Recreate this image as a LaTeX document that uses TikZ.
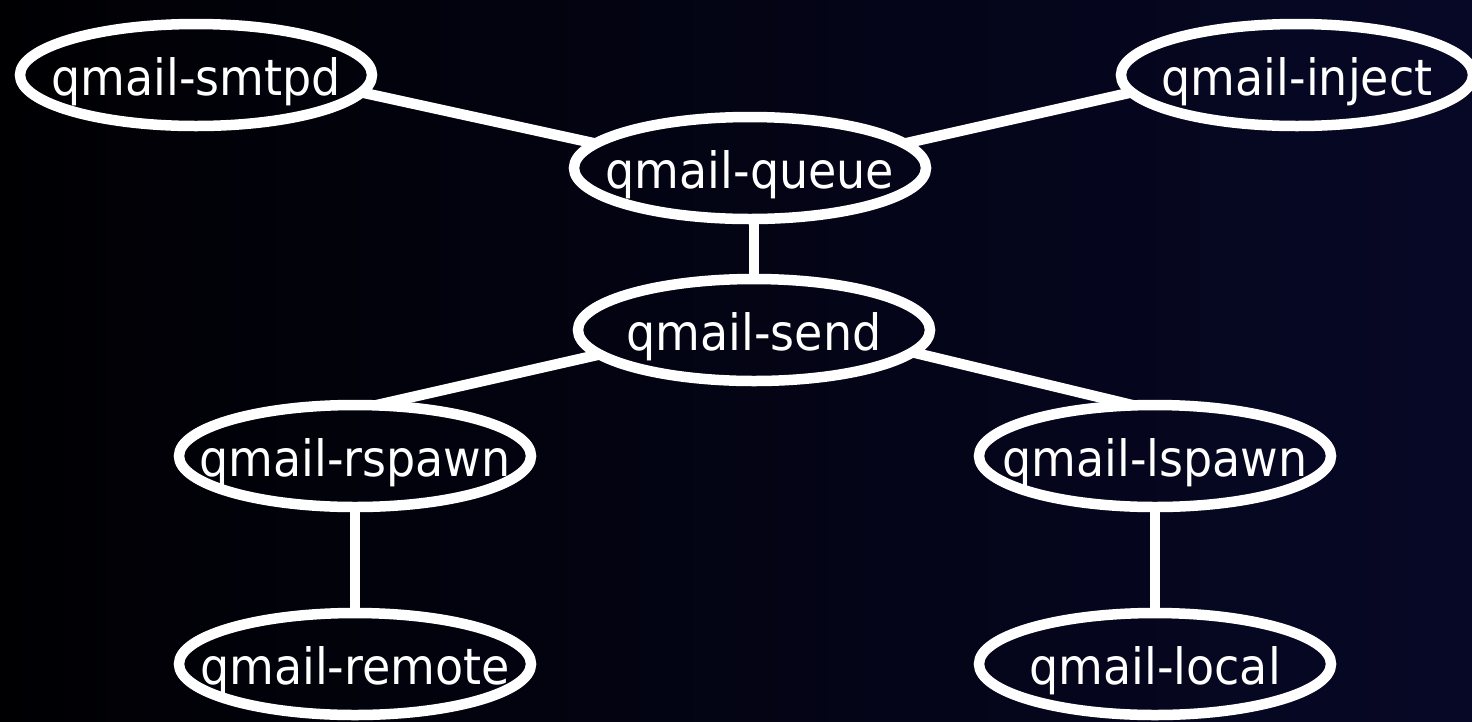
\documentclass[tikz,border=0pt]{standalone}
\usepackage{fontspec}
\setmainfont{DejaVu Sans}[FakeStretch=0.92]
\usetikzlibrary{shapes.geometric}
\definecolor{bgL}{RGB}{0,0,3}
\definecolor{bgR}{RGB}{7,8,38}
\begin{document}
\begin{tikzpicture}[x=1pt,y=-1pt,
  proc/.style={ellipse, draw=white, line width=10.5pt, outer sep=0pt,
    minimum width=352pt, minimum height=102pt, inner sep=0pt,
    text=white, font=\fontsize{50}{54}\selectfont,
    text height=53pt, text depth=12pt},
  link/.style={draw=white, line width=10.5pt}]
\shade[left color=bgL, right color=bgR] (0,0) rectangle (1472,721);
\useasboundingbox (0,0) rectangle (1472,721);
\node[proc] (smtpd)  at (196,75)   {\makebox[0pt]{qmail-smtpd}};
\node[proc] (inject) at (1297,75)  {\makebox[0pt]{qmail-inject}};
\node[proc] (queue)  at (750,168)  {\makebox[0pt]{qmail-queue}};
\node[proc] (send)   at (754,330)  {\makebox[0pt]{qmail-send}};
\node[proc] (rspawn) at (355,456)  {\makebox[0pt]{qmail-rspawn}};
\node[proc] (lspawn) at (1155,456) {\makebox[0pt]{qmail-lspawn}};
\node[proc] (remote) at (355,664)  {\makebox[0pt]{qmail-remote}};
\node[proc] (local)  at (1155,664) {\makebox[0pt]{qmail-local}};
\draw[link] (smtpd.-6) -- (queue.171);
\draw[link] (inject.186) -- (queue.9);
\draw[link] (send.north) -- (send.north |- queue.south);
\draw[link] (send.189) -- (rspawn.68);
\draw[link] (send.-8) -- (lspawn.113);
\draw[link] (rspawn.south) -- (remote.north);
\draw[link] (lspawn.south) -- (local.north);
\end{tikzpicture}
\end{document}
